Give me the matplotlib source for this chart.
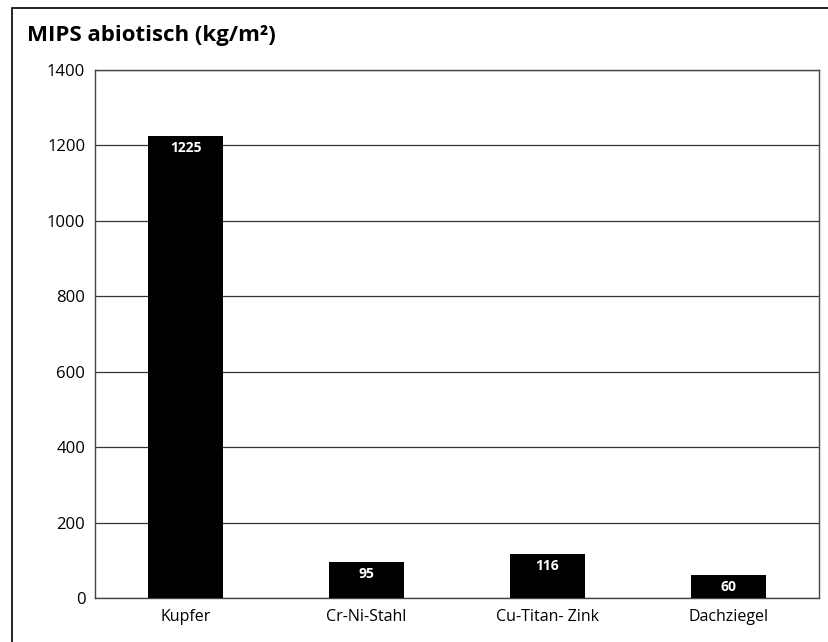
import matplotlib
matplotlib.use("Agg")
import matplotlib.pyplot as plt
from matplotlib.patches import Rectangle

categories = ["Kupfer", "Cr-Ni-Stahl", "Cu-Titan- Zink", "Dachziegel"]
values = [1225, 95, 116, 60]
yticks = [0, 200, 400, 600, 800, 1000, 1200, 1400]
title = "MIPS abiotisch (kg/m²)"

plt.rcParams['font.family'] = ['Open Sans', 'DejaVu Sans']

fig = plt.figure(figsize=(8.29, 6.42), dpi=100)
fig.patches.append(Rectangle((12/829, -0.05), 1.0, (642-8)/642 + 0.05,
                             transform=fig.transFigure, fill=False,
                             edgecolor='black', linewidth=1.2))
ax = fig.add_axes([95/829, 44/642, 724/829, 528/642])
x = list(range(len(categories)))
ax.bar(x, values, width=0.415, color='black', zorder=3)
for xi, v in zip(x, values):
    ax.text(xi, v - 12, str(v), ha='center', va='top', color='white',
            fontsize=10, fontweight='bold', zorder=4)
ax.set_xlim(-0.5, 3.5)
ax.set_ylim(0, 1400)
ax.set_yticks(yticks)
ax.set_xticks(x)
ax.set_xticklabels(categories, fontsize=11.5)
ax.tick_params(axis='y', labelsize=12, length=0, pad=7)
ax.tick_params(axis='x', length=0, pad=8)
ax.grid(axis='y', color='#333333', linewidth=0.9, zorder=0)
for s in ax.spines.values():
    s.set_color('#444444')
    s.set_linewidth(1.0)
fig.text(27/829, 1 - 36/642, title, fontsize=16, fontweight='bold',
         va='center', ha='left')
fig.savefig("out.png", dpi=100)
